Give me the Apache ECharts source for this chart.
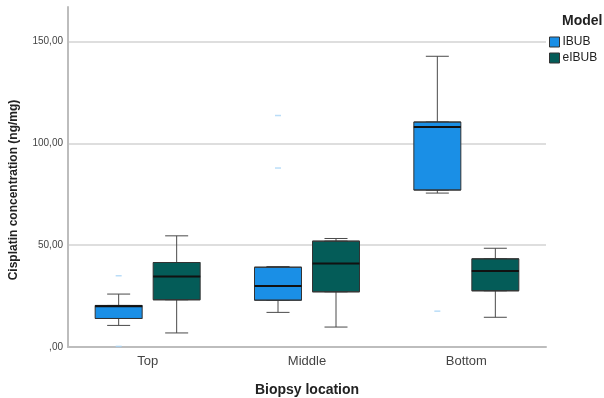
<!DOCTYPE html>
<html><head><meta charset="utf-8">
<script src="https://cdn.jsdelivr.net/npm/echarts@6/dist/echarts.min.js"></script>
<style>html,body{margin:0;padding:0;background:#fff}#c{width:604px;height:398px}</style>
</head><body><div id="c"></div>
<script>
const categories = ['Top', 'Middle', 'Bottom'];
const modelNames = ['IBUB', 'eIBUB'];
// [min, Q1, median, Q3, max]
const ibubBoxes = [[10.6, 14, 20, 20.4, 26], [17, 23, 30, 39.2, 39.5], [75.6, 77.1, 108, 110.5, 142.8]];
const eibubBoxes = [[6.9, 23.2, 34.6, 41.5, 54.6], [9.8, 27.1, 41, 52, 53.3], [14.6, 27.6, 37.3, 43.3, 48.5]];
const ibubOutliers = [['Top', 35], ['Top', 0.3], ['Middle', 113.7], ['Middle', 87.9], ['Bottom', 17.6]];
const eibubOutliers = [];
const yTicks = [0, 50, 100, 150];

const FONT = 'Arial, "Liberation Sans", sans-serif';
const fills = ['#1a8fe6', '#045c58'];
const outlierColors = ['#a9d5f6', '#7fb0ad'];
const boxesByModel = [ibubBoxes, eibubBoxes];
const outliersByModel = [ibubOutliers, eibubOutliers];
const yMax = 167;

const grids = [
  { left: 68, right: 58, top: 7, bottom: 51, outerBoundsMode: 'none', containLabel: false },
  { left: 39, right: 87, top: 7, bottom: 51, outerBoundsMode: 'none', containLabel: false },
  { left: 97, right: 29, top: 7, bottom: 51, outerBoundsMode: 'none', containLabel: false }
];

const xAxes = [{
  type: 'category', gridIndex: 0, data: categories,
  axisLine: { show: true, lineStyle: { color: '#bdbdbd', width: 2 } },
  axisTick: { show: false },
  axisLabel: { fontSize: 13, color: '#444', margin: 8, fontFamily: FONT },
  name: 'Biopsy location', nameLocation: 'middle', nameGap: 36,
  nameTextStyle: { fontSize: 14, fontWeight: 'bold', color: '#222', fontFamily: FONT }
}];
const yAxes = [{
  type: 'value', gridIndex: 0, min: 0, max: yMax, interval: 50,
  axisLine: { show: true, lineStyle: { color: '#bdbdbd', width: 2 } },
  axisTick: { show: false },
  axisLabel: {
    fontSize: 10, color: '#444', margin: 5, fontFamily: FONT, showMaxLabel: false,
    formatter: v => yTicks.indexOf(v) < 0 ? '' : (v === 0 ? ',00' : v.toFixed(2).replace('.', ','))
  },
  splitLine: { show: true, showMaxLine: false, lineStyle: { color: '#d3d3d3', width: 1.5 } }
}];
const series = [];

modelNames.forEach((name, m) => {
  const g = m + 1;
  const base = xAxes.length;
  for (let k = 0; k < 3; k++) {
    xAxes.push({ type: 'category', gridIndex: g, data: categories, show: false });
  }
  yAxes.push({ type: 'value', gridIndex: g, min: 0, max: yMax, show: false });
  const boxes = boxesByModel[m];
  // whiskers (half-width caps)
  series.push({
    type: 'boxplot', name: name + ' whisker', xAxisIndex: base, yAxisIndex: g,
    boxWidth: [23, 23], silent: true,
    itemStyle: { color: 'rgba(0,0,0,0)', borderColor: '#4a4a4a', borderWidth: 1 },
    data: boxes
  });
  // box body
  series.push({
    type: 'boxplot', name: name, xAxisIndex: base + 1, yAxisIndex: g,
    boxWidth: [47, 47], silent: true,
    itemStyle: { color: fills[m], borderColor: '#333', borderWidth: 1 },
    data: boxes.map(b => [b[1], b[1], b[2], b[3], b[3]])
  });
  // median
  series.push({
    type: 'boxplot', name: name + ' median', xAxisIndex: base + 2, yAxisIndex: g,
    boxWidth: [47, 47], silent: true,
    itemStyle: { color: '#111', borderColor: '#111', borderWidth: 2 },
    data: boxes.map(b => [b[2], b[2], b[2], b[2], b[2]])
  });
  // outliers
  series.push({
    type: 'scatter', name: name + ' outliers', xAxisIndex: base, yAxisIndex: g,
    symbol: 'rect', symbolSize: [6, 1.5], silent: true,
    itemStyle: { color: outlierColors[m] },
    data: outliersByModel[m]
  });
});

const chart = echarts.init(document.getElementById('c'), null, { renderer: 'canvas' });
chart.setOption({
  animation: false,
  backgroundColor: '#fff',
  grid: grids,
  xAxis: xAxes,
  yAxis: yAxes,
  title: {
    text: 'Model', left: 562, top: 14, padding: 0,
    textStyle: { fontSize: 14, fontWeight: 'bold', color: '#222', fontFamily: FONT }
  },
  legend: {
    orient: 'vertical', left: 549, top: 36, padding: 0,
    itemWidth: 10, itemHeight: 10, itemGap: 4, icon: 'rect',
    textStyle: { fontSize: 12, color: '#222', fontFamily: FONT, padding: [0, 0, 0, -2] },
    selectedMode: false,
    data: modelNames.map((n, i) => ({ name: n, itemStyle: { color: fills[i], borderColor: '#333', borderWidth: 1 } }))
  },
  graphic: [{
    type: 'text', x: 14, y: 190, rotation: Math.PI / 2,
    style: {
      text: 'Cisplatin concentration (ng/mg)', font: 'bold 12px ' + FONT,
      fill: '#222', align: 'center', verticalAlign: 'middle'
    }
  }],
  series: series
});
</script></body></html>
